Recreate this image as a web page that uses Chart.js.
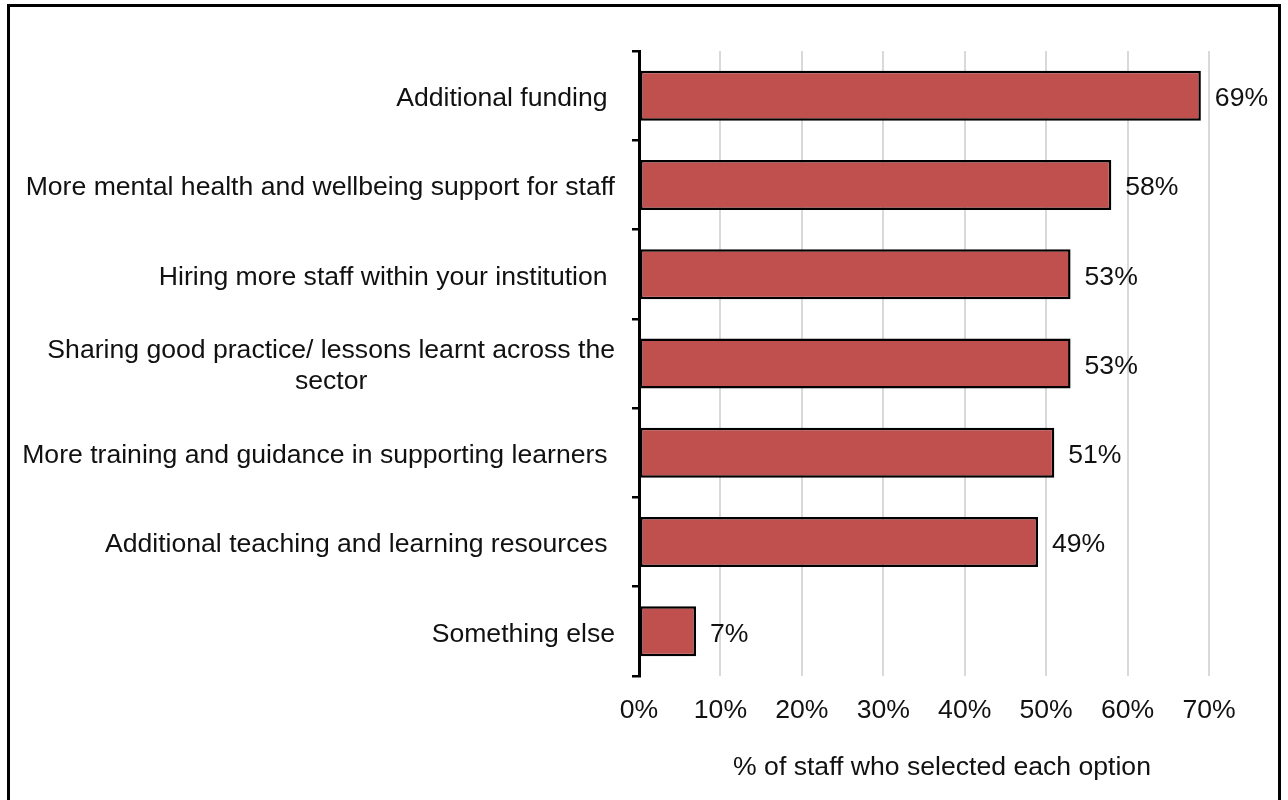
<!DOCTYPE html>
<html>
<head>
<meta charset="utf-8">
<script src="https://cdn.jsdelivr.net/npm/chart.js@4.4.0/dist/chart.umd.min.js"></script>
<style>
  html, body { margin: 0; padding: 0; background: #fff; overflow: hidden; }
  #frame { position: absolute; left: 7px; top: 4px; width: 1268px; height: 900px; border: 3px solid #000; }
  #chart { position: absolute; left: 0; top: 0; }
</style>
</head>
<body>
<div id="frame"></div>
<canvas id="chart" width="1288" height="800"></canvas>
<script>
const categories = [
  'Additional funding ',
  'More mental health and wellbeing support for staff',
  'Hiring more staff within your institution ',
  ['Sharing good practice/ lessons learnt across the', 'sector'],
  'More training and guidance in supporting learners ',
  'Additional teaching and learning resources ',
  'Something else'
];
const shares = [69, 58, 53, 53, 51, 49, 7];
const xTicks = [0, 10, 20, 30, 40, 50, 60, 70];
const xTitle = '% of staff who selected each option';

const FAMILY = '"Liberation Sans", Arial, sans-serif';
const SIZE = 26.6;
const FONT = SIZE + 'px ' + FAMILY;

// category labels, value labels and the axis title are painted here
const labelPlugin = {
  id: 'labelPlugin',
  afterDraw(chart) {
    const ctx = chart.ctx;
    const y = chart.scales.y;
    ctx.save();
    ctx.font = FONT;
    ctx.fillStyle = '#111';
    ctx.textBaseline = 'middle';
    ctx.textAlign = 'center';

    const right = 615, lineH = 31;
    categories.forEach((lab, i) => {
      const lines = Array.isArray(lab) ? lab : [lab];
      const w = Math.max(...lines.map(l => ctx.measureText(l).width));
      const cx = right - w / 2;
      const cy = y.getPixelForTick(i) + 3;
      lines.forEach((l, j) => {
        ctx.fillText(l, cx, cy + (j - (lines.length - 1) / 2) * lineH);
      });
    });

    ctx.textAlign = 'left';
    chart.getDatasetMeta(0).data.forEach((bar, i) => {
      ctx.fillText(shares[i] + '%', bar.x + 14, bar.y + 3);
    });

    ctx.textAlign = 'center';
    ctx.fillText(xTitle, 942, 768);
    ctx.restore();
  }
};

new Chart(document.getElementById('chart'), {
  type: 'bar',
  data: {
    labels: categories,
    datasets: [{
      data: shares,
      backgroundColor: '#C0504D',
      borderColor: '#000',
      borderWidth: 2.5,
      borderSkipped: false,
      barPercentage: 0.56,
      categoryPercentage: 1
    }]
  },
  options: {
    indexAxis: 'y',
    responsive: false,
    animation: false,
    devicePixelRatio: 1,
    layout: { padding: { left: 0, right: 79, top: 51, bottom: 0 } },
    plugins: { legend: { display: false }, tooltip: { enabled: false } },
    scales: {
      y: {
        grid: { display: true, drawOnChartArea: false, offset: true, color: '#000', lineWidth: 2.5, tickLength: 7 },
        border: { display: true, color: '#000', width: 3 },
        ticks: { display: false },
        afterFit(s) { s.width = 639; }
      },
      x: {
        min: 0,
        max: 70,
        afterBuildTicks(s) { s.ticks = xTicks.map(v => ({ value: v })); },
        ticks: {
          callback: v => v + '%',
          font: { family: FAMILY, size: SIZE },
          color: '#111',
          padding: 19,
          maxRotation: 0
        },
        grid: { color: '#d9d9d9', lineWidth: 2, drawTicks: false },
        border: { display: false },
        afterFit(s) { s.height = 124; }
      }
    }
  },
  plugins: [labelPlugin]
});
</script>
</body>
</html>
